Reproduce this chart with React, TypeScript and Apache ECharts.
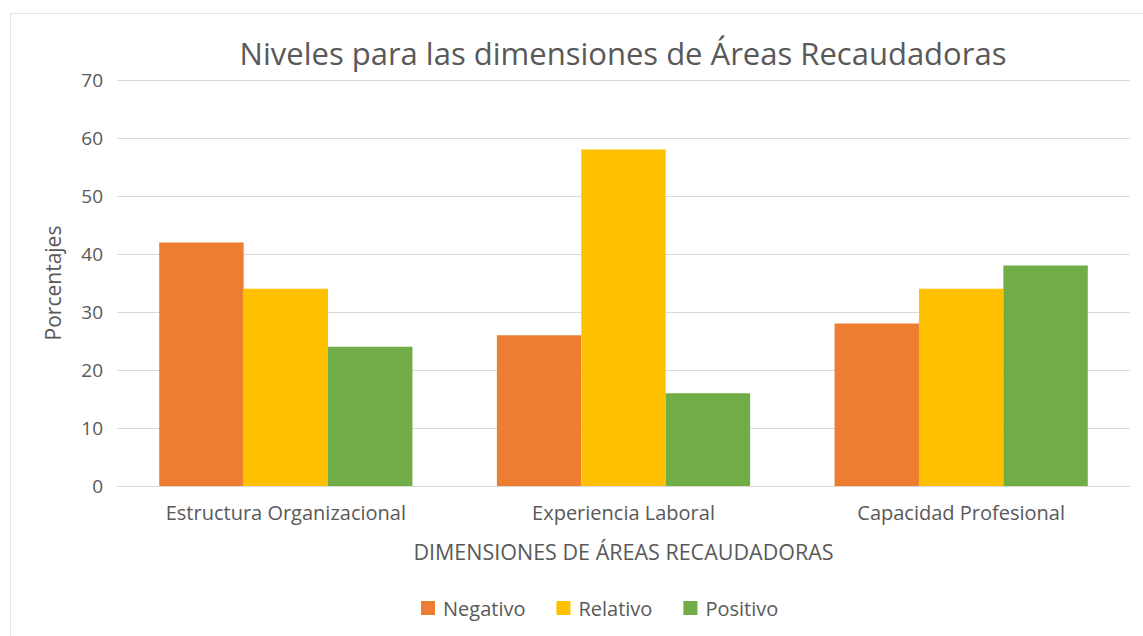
import React, { useEffect, useRef } from "react";
import * as echarts from "echarts";

const categories = ["Estructura Organizacional", "Experiencia Laboral", "Capacidad Profesional"];
const negativo = [42, 26, 28];
const relativo = [34, 58, 34];
const positivo = [24, 16, 38];
const seriesNames = ["Negativo", "Relativo", "Positivo"];
const colors = ["#ED7D31", "#FFC000", "#70AD47"];

const FONT = "'Open Sans', sans-serif";
const TEXT = "#595959";

export default function App() {
  const ref = useRef<HTMLDivElement>(null);
  useEffect(() => {
    if (!ref.current) return;
    const chart = echarts.init(ref.current, undefined, { renderer: "svg" });
    const values = [negativo, relativo, positivo];
    chart.setOption({
      animation: false,
      backgroundColor: "#ffffff",
      textStyle: { fontFamily: FONT, color: TEXT },
      title: {
        text: "Niveles para las dimensiones de Áreas Recaudadoras",
        left: 618,
        textAlign: "center",
        top: 32,
        textStyle: { fontFamily: FONT, fontSize: 31, fontWeight: "normal", color: TEXT },
      },
      graphic: [
        {
          type: "rect",
          shape: { x: 10.5, y: 13.5, width: 1140, height: 640 },
          style: { fill: "none", stroke: "#e3e3e3", lineWidth: 1 },
          silent: true,
        },
      ],
      legend: {
        top: 593,
        left: 416,
        itemWidth: 14,
        itemHeight: 14,
        itemGap: 31,
        icon: "rect",
        textStyle: { fontFamily: FONT, fontSize: 20, color: TEXT, padding: [0, 0, 0, 3] },
        data: seriesNames,
      },
      grid: { left: 117, right: 13, top: 80, bottom: 150 },
      xAxis: {
        type: "category",
        data: categories,
        name: "DIMENSIONES DE ÁREAS RECAUDADORAS",
        nameLocation: "middle",
        nameGap: 54,
        nameTextStyle: { fontFamily: FONT, fontSize: 21.5, color: TEXT },
        axisLine: { lineStyle: { color: "#d9d9d9", width: 1 } },
        axisTick: { show: false },
        axisLabel: { fontFamily: FONT, fontSize: 20, color: TEXT, margin: 16 },
      },
      yAxis: {
        type: "value",
        min: 0,
        max: 70,
        interval: 10,
        name: "Porcentajes",
        nameLocation: "middle",
        nameGap: 54,
        nameRotate: 90,
        nameTextStyle: { fontFamily: FONT, fontSize: 21, color: TEXT },
        axisLine: { show: false },
        axisTick: { show: false },
        axisLabel: { fontFamily: FONT, fontSize: 19, color: TEXT, margin: 14 },
        splitLine: { lineStyle: { color: "#d9d9d9", width: 1 } },
      },
      series: seriesNames.map((name, i) => ({
        name,
        type: "bar",
        data: values[i],
        itemStyle: { color: colors[i] },
        barGap: "0%",
        barCategoryGap: "25%",
      })),
    });
    return () => chart.dispose();
  }, []);
  return (
    <div
      ref={ref}
      style={{ position: "fixed", left: 0, top: 0, width: 1143, height: 636 }}
    />
  );
}
